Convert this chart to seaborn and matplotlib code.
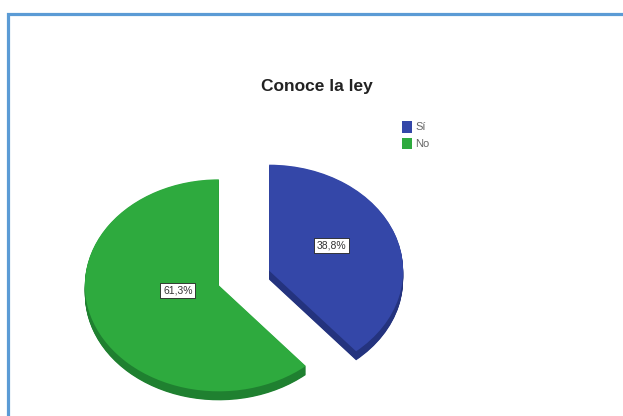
import matplotlib
matplotlib.use("Agg")
import matplotlib.pyplot as plt
from matplotlib.patches import Rectangle
import numpy as np
import seaborn as sns

# Survey answers: "Conoce la ley"
categories = ["Sí", "No"]
percentages = [38.8, 61.3]
pct_labels = ["38,8%", "61,3%"]

sns.set_theme(style="white")
plt.rcParams["font.family"] = ["Liberation Sans", "DejaVu Sans"]

top_colors = ["#3447a8", "#2eaa3e"]
side_colors = ["#24337e", "#1f8030"]

W, H = 623, 416
fig = plt.figure(figsize=(W / 100, H / 100), dpi=100)
ax = fig.add_axes([0, 0, 1, 1])

# pie geometry in pixels (elliptical, tilted view)
rx, ry = 134.0, 106.0
cx, cy = 244.0, 278.0

explode = [0.2, 0.2]
depth = 9.0 / ry
n_layers = 14

# extruded side of the pie: stacked darker copies
for i in range(n_layers, 0, -1):
    off = depth * i / n_layers
    ax.pie(percentages, explode=explode, startangle=90, counterclock=False,
           colors=side_colors, center=(0, -off), frame=True,
           wedgeprops=dict(linewidth=0))

wedges, _ = ax.pie(percentages, explode=explode, startangle=90, counterclock=False,
                   colors=top_colors, center=(0, 0), frame=True,
                   wedgeprops=dict(linewidth=0))
ax.set_xlim(-cx / rx, (W - cx) / rx)
ax.set_ylim(-(H - cy) / ry, cy / ry)
ax.set_aspect("auto")
ax.set_axis_off()

# percentage labels inside each slice
label_radius = [0.52, 0.31]
label_angle_shift = [7.0, -11.0]
start = 90.0
total = sum(percentages)
for p, lab, ex, r, da in zip(percentages, pct_labels, explode,
                             label_radius, label_angle_shift):
    span = 360.0 * p / total
    mid = np.deg2rad(start - span / 2)
    start -= span
    x = ex * np.cos(mid) + r * np.cos(mid + np.deg2rad(da))
    y = ex * np.sin(mid) + r * np.sin(mid + np.deg2rad(da))
    ax.text(x, y, lab, ha="center", va="center", fontsize=7.5, color="#333333",
            bbox=dict(boxstyle="square,pad=0.25", facecolor="white",
                      edgecolor="#222222", linewidth=0.6))

fig.text(317 / W, 1 - 87 / H, "Conoce la ley", ha="center", va="center",
         fontsize=12.5, fontweight="bold", color="#222222")

fig.legend(wedges, categories, loc="upper left",
           bbox_to_anchor=(394 / W, 1 - 113 / H), frameon=False,
           fontsize=8, handlelength=0.95, handleheight=1.25,
           handletextpad=0.25, labelspacing=0.45, borderpad=0.2,
           labelcolor="#666666")

# blue frame around the chart
fig.patches.append(Rectangle((7.5 / W, -0.05), 1.1, 1 - 13.5 / H + 0.05,
                             transform=fig.transFigure, fill=False,
                             edgecolor="#5b9bd5", linewidth=2.3))

fig.savefig("out.png", dpi=100, facecolor="white")
